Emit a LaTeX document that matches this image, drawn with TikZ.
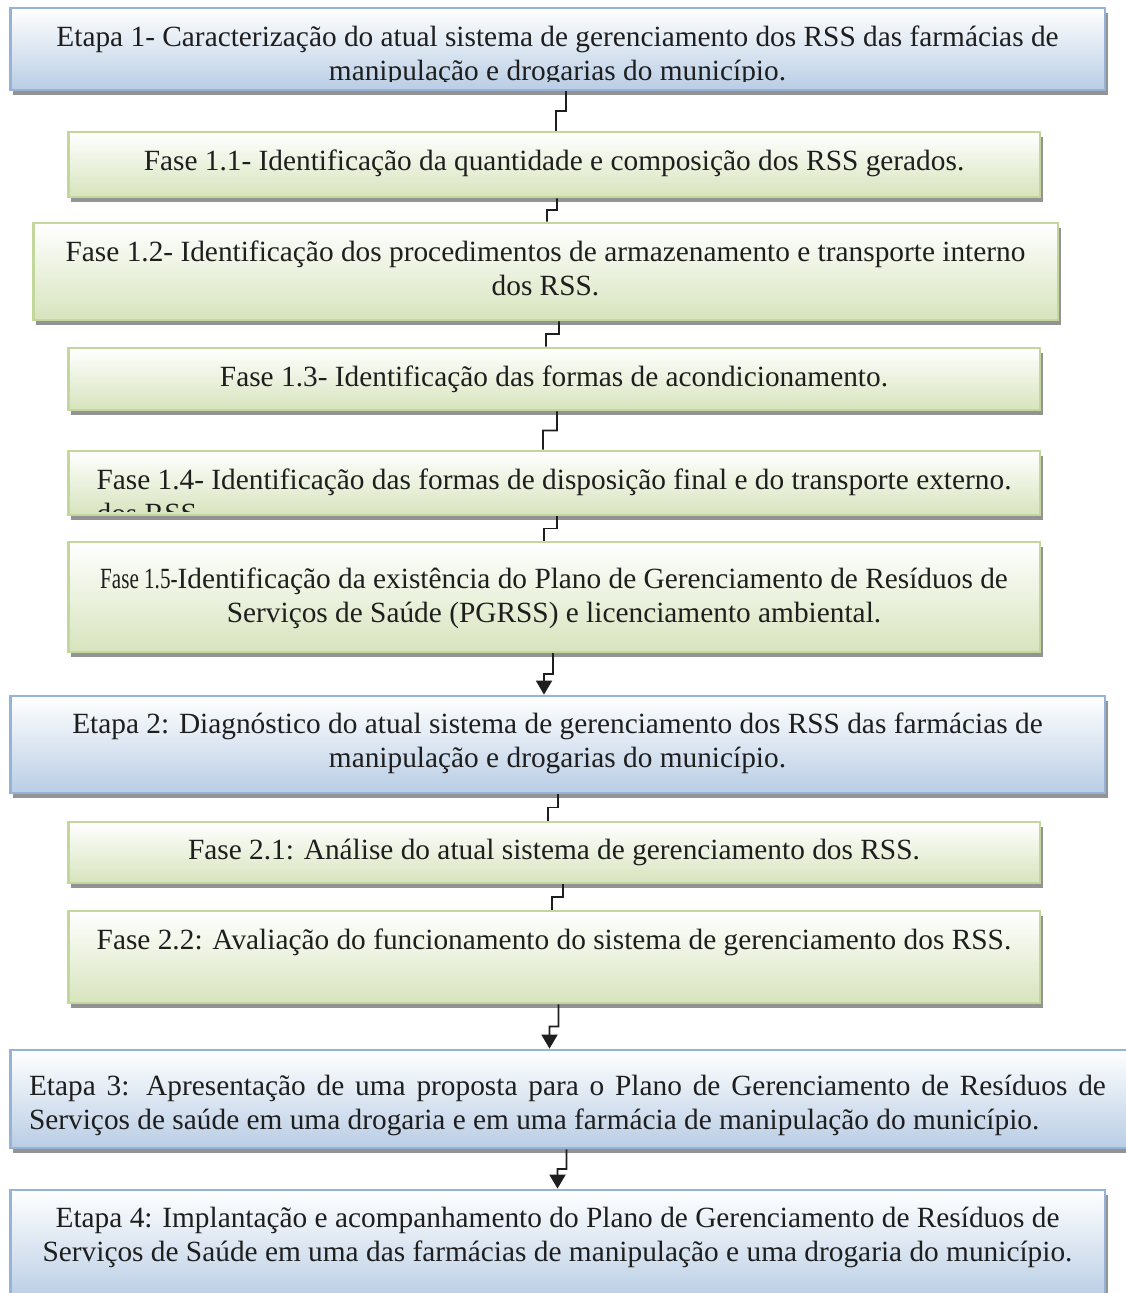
\documentclass[tikz,border=0pt]{standalone}
\usepackage{fontspec}
\setmainfont{Liberation Serif}
\usepackage{graphicx}
\usetikzlibrary{arrows.meta, positioning, shadows, calc}
\definecolor{etapafill}{HTML}{B9CDE5}
\definecolor{etapaline}{HTML}{95B3D7}
\definecolor{fasefill}{HTML}{D7E4BD}
\definecolor{faseline}{HTML}{C3D69B}
\definecolor{ink}{HTML}{1E1E1E}
\definecolor{boxshadow}{HTML}{939393}
\tikzset{
  box/.style={rectangle, line width=1.6pt, inner sep=0pt,
    drop shadow={shadow xshift=0.06cm, shadow yshift=-0.1cm,
      fill=boxshadow, opacity=1}},
  etapa/.style={box, draw=etapaline, top color=white, bottom color=etapafill},
  fase/.style={box, draw=faseline, top color=white, bottom color=fasefill},
  boxtext/.style={anchor=north, inner sep=0pt, text=ink, align=flush center,
    font=\fontsize{16.7}{19.4}\selectfont},
  link/.style={line width=1.1pt, draw=ink},
  linkarrow/.style={link, -{Triangle[width=0.32cm, length=0.28cm]}}
}

\begin{document}
\begin{tikzpicture}[x=0.02cm, y=-0.02cm]
  \useasboundingbox (0,0) rectangle (1125,1293);
  % Etapas and fases
  \node[etapa, minimum width=21.9cm, minimum height=1.64cm] (e1) at (557.5,49) {};
  \node[fase, minimum width=19.44cm, minimum height=1.3cm] (f11) at (554,164.5) {};
  \node[fase, minimum width=20.5cm, minimum height=1.94cm] (f12) at (545.5,271.5) {};
  \node[fase, minimum width=19.44cm, minimum height=1.24cm] (f13) at (554,379) {};
  \node[fase, minimum width=19.44cm, minimum height=1.28cm] (f14) at (554,483) {};
  \node[fase, minimum width=19.44cm, minimum height=2.2cm] (f15) at (554,597) {};
  \node[etapa, minimum width=21.9cm, minimum height=1.94cm] (e2) at (557.5,744.5) {};
  \node[fase, minimum width=19.44cm, minimum height=1.22cm] (f21) at (554,852.5) {};
  \node[fase, minimum width=19.44cm, minimum height=1.84cm] (f22) at (554,957) {};
  \node[etapa, minimum width=22.5cm, minimum height=1.96cm] (e3) at (572.5,1099) {};
  \node[etapa, minimum width=21.9cm, minimum height=2.2cm] (e4) at (557.5,1245) {};

  % Connectors (elbow)
  \foreach \a/\b/\t/\s in {e1/f11/0.04/0.24, f11/f12/0.03/0.23,
      f12/f13/-0.16/0.1, f13/f14/-0.22/0.06, f14/f15/-0.2/0.06,
      e2/f21/-0.12/0.08, f21/f22/-0.04/0.18}
    \draw[link] ([xshift=\s cm]\b.north |- \a.south)
      |- ($([xshift=\t cm]\b.north)!0.5!([xshift=\t cm]\b.north |- \a.south)$)
      -- ([xshift=\t cm]\b.north);
  \foreach \a/\b/\t/\s in {f15/e2/-0.27/-0.09, f22/e3/-0.46/-0.28, e3/e4/0/0.18}
    \draw[linkarrow] ([xshift=\s cm]\b.north |- \a.south)
      |- ($([xshift=\t cm]\b.north)!0.5!([xshift=\t cm]\b.north |- \a.south)$)
      -- ([xshift=\t cm]\b.north);

  % Texts
  \begin{scope}
    \clip (e1.north west) rectangle ([yshift=0.2cm]e1.south east);
    \node[boxtext, text width=21.3cm] (e1t) at ([yshift=-0.38cm]e1.north)
      {Etapa 1- Caracterização do atual sistema de gerenciamento dos RSS das farmácias de manipulação e drogarias do município.};
  \end{scope}
  \node[boxtext, text width=18.84cm] (f11t) at ([yshift=-0.38cm]f11.north)
    {Fase 1.1- Identificação da quantidade e composição dos RSS gerados.};
  \node[boxtext, text width=19.5cm] (f12t) at ([yshift=-0.38cm]f12.north)
    {Fase 1.2- Identificação dos procedimentos de armazenamento e transporte interno dos RSS.};
  \node[boxtext, text width=18.84cm] (f13t) at ([yshift=-0.38cm]f13.north)
    {Fase 1.3- Identificação das formas de acondicionamento.};
  \begin{scope}
    \clip (f14.north west) rectangle ([yshift=0.1cm]f14.south east);
    \node[boxtext, text width=18.84cm] (f14t) at ([yshift=-0.38cm]f14.north)
      {Fase 1.4- Identificação das formas de disposição final e do transporte externo.\\
       \makebox[18.3cm][l]{dos RSS.}};
  \end{scope}
  \node[boxtext, text width=18.84cm] (f15t) at ([yshift=-0.54cm]f15.north)
    {\scalebox{0.72}[1]{Fase 1.5-}Identificação da existência do Plano de Gerenciamento de Resíduos de Serviços de Saúde (PGRSS) e licenciamento ambiental.};
  \node[boxtext, text width=21.3cm] (e2t) at ([yshift=-0.36cm]e2.north)
    {Etapa 2: Diagnóstico do atual sistema de gerenciamento dos RSS das farmácias de manipulação e drogarias do município.};
  \node[boxtext, text width=18.84cm] (f21t) at ([yshift=-0.36cm]f21.north)
    {Fase 2.1: Análise do atual sistema de gerenciamento dos RSS.};
  \node[boxtext, text width=18.84cm] (f22t) at ([yshift=-0.38cm]f22.north)
    {Fase 2.2: Avaliação do funcionamento do sistema de gerenciamento dos RSS.};
  \node[boxtext, text width=21.54cm, align=justify, anchor=north west] (e3t)
    at ([xshift=0.4cm, yshift=-0.52cm]e3.north west)
    {Etapa 3: Apresentação de uma proposta para o Plano de Gerenciamento de Resíduos de Serviços de saúde em uma drogaria e em uma farmácia de manipulação do município.};
  \node[boxtext, text width=21.3cm] (e4t) at ([yshift=-0.36cm]e4.north)
    {Etapa 4: Implantação e acompanhamento do Plano de Gerenciamento de Resíduos de Serviços de Saúde em uma das farmácias de manipulação e uma drogaria do município.};
\end{tikzpicture}
\end{document}
